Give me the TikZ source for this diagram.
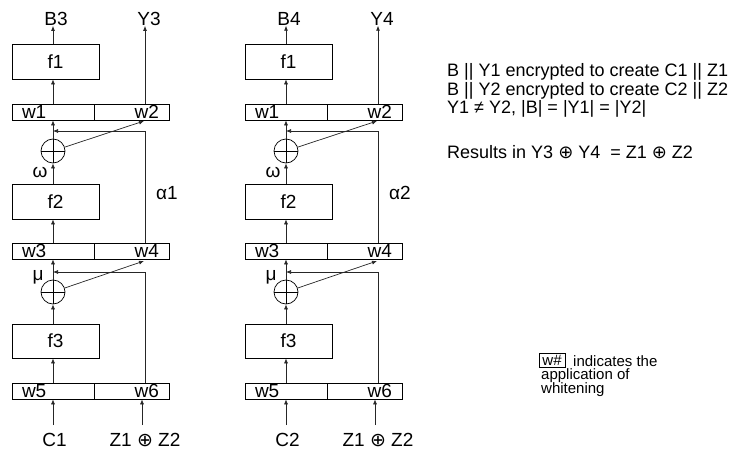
\documentclass[tikz,border=0pt]{standalone}
\usepackage{fontspec}
\setmainfont{Liberation Sans}
\newfontfamily\symfont{DejaVu Sans}
\usepackage{tikz}
\usetikzlibrary{arrows.meta}
\newcommand{\dgfont}{\fontsize{19}{22}\selectfont}
\newcommand{\notefont}{\fontsize{18}{20}\selectfont}
\newcommand{\keyfont}{\fontsize{15}{16}\selectfont}
\newcommand{\xorsym}{{\symfont ⊕}}

\begin{document}
\begin{tikzpicture}[x=1pt, y=-1pt,
    fbox/.style={rectangle, draw, line width=0.7pt, minimum width=87pt,
                 minimum height=35pt, inner sep=0pt, font=\dgfont},
    wl/.style={rectangle, draw, line width=0.7pt, minimum width=82pt,
               minimum height=16pt, inner ysep=0pt, inner xsep=10pt,
               text width=62pt, align=left, font=\dgfont},
    wr/.style={rectangle, draw, line width=0.7pt, minimum width=75pt,
               minimum height=16pt, inner ysep=0pt, inner xsep=10pt,
               text width=55pt, align=right, font=\dgfont},
    xorc/.style={circle, draw, line width=0.7pt, minimum size=24pt, inner sep=0pt,
                 path picture={\draw[line width=0.7pt]
                   (path picture bounding box.north) -- (path picture bounding box.south)
                   (path picture bounding box.west) -- (path picture bounding box.east);}},
    txt/.style={inner sep=0pt, font=\dgfont},
    note/.style={inner sep=0pt, anchor=base west, font=\notefont},
    arr/.style={-{Latex[length=5pt, width=4pt]}, line width=0.7pt, color=black!85}]

    \useasboundingbox (0,0) rectangle (733,452);

    % the two whitened columns
    \foreach \c/\dx/\bo/\yo/\ci in {1/0/B3/Y3/C1, 2/233/B4/Y4/C2} {
        \node[txt] (b\c)  at (56+\dx,19)    {\bo};
        \node[txt] (y\c)  at (149+\dx,19)   {\yo};
        \node[fbox] (f1\c) at (55.5+\dx,61.5) {f1};
        \node[wl] (w1\c)  at (53+\dx,112)   {w1};
        \node[wr] (w2\c)  at (131.5+\dx,112) {w2};
        \node[xorc] (xa\c) at (53+\dx,151)  {};
        \node[txt] (om\c) at (40+\dx,172)   {ω};
        \node[txt] (al\c) at (167+\dx,193)  {α\c};
        \node[fbox] (f2\c) at (55.5+\dx,201.5) {f2};
        \node[wl] (w3\c)  at (53+\dx,251)   {w3};
        \node[wr] (w4\c)  at (131.5+\dx,251) {w4};
        \node[xorc] (xb\c) at (53+\dx,292)  {};
        \node[txt] (mu\c) at (38+\dx,277.5) {μ};
        \node[fbox, minimum height=34pt] (f3\c) at (55.5+\dx,341) {f3};
        \node[wl] (w5\c)  at (53+\dx,391)   {w5};
        \node[wr] (w6\c)  at (131.5+\dx,391) {w6};
        \node[txt] (c\c)  at (54.5+\dx,440) {\ci};
        \node[txt] (z\c)  at (145+\dx,440)  {Z1 \xorsym\ Z2};

        \coordinate (ja\c) at (53+\dx,131);
        \coordinate (jb\c) at (53+\dx,272);
        \coordinate (da\c) at (144+\dx,121);
        \coordinate (db\c) at (144+\dx,261);

        \draw[arr] (f1\c.north -| w1\c) -- (b\c.south -| w1\c);
        \draw[arr] (w1\c.north) -- (f1\c.south -| w1\c);
        \draw[arr] ([xshift=13.5pt]w2\c.north) -- ([xshift=13.5pt]w2\c.north |- y\c.south);
        \draw[arr] (xa\c) -- (w1\c.south);
        \draw[arr] ([xshift=13.5pt]w4\c.north) |- (ja\c);
        \draw[arr] (xa\c) -- (da\c);
        \draw[arr] (f2\c.north -| xa\c) -- (xa\c);
        \draw[arr] (w3\c.north) -- (f2\c.south -| w3\c);
        \draw[arr] (xb\c) -- (w3\c.south);
        \draw[arr] ([xshift=13.5pt]w6\c.north) |- (jb\c);
        \draw[arr] (xb\c) -- (db\c);
        \draw[arr] (f3\c.north -| xb\c) -- (xb\c);
        \draw[arr] (w5\c.north) -- (f3\c.south -| w5\c);
        \draw[arr, shorten <=8pt] (c\c.north -| w5\c) -- (w5\c.south);
        \draw[arr, shorten <=8pt] ([xshift=-3pt]z\c.north)
            -- ([xshift=-3pt]z\c.north |- w6\c.south);
    }

    % attack notes
    \node[note] (ea)  at (447,76)  {B || Y1 encrypted to create C1 || Z1};
    \node[note] (eb)  at (447,95)  {B || Y2 encrypted to create C2 || Z2};
    \node[note] (ec)  at (447,113) {Y1 ≠ Y2, |B| = |Y1| = |Y2|};
    \node[note] (res) at (447,158) {Results in Y3 \xorsym\ Y4~ = Z1 \xorsym\ Z2};

    % key
    \node[draw, line width=0.5pt, minimum width=26pt, minimum height=14pt,
          inner sep=0pt, font=\keyfont] (key) at (552,360) {w\#};
    \node[note, font=\keyfont] (keya) at (573,366) {indicates the};
    \node[note, font=\keyfont] (keyb) at (541,379) {application of};
    \node[note, font=\keyfont] (keyc) at (541,393) {whitening};

\end{tikzpicture}
\end{document}
